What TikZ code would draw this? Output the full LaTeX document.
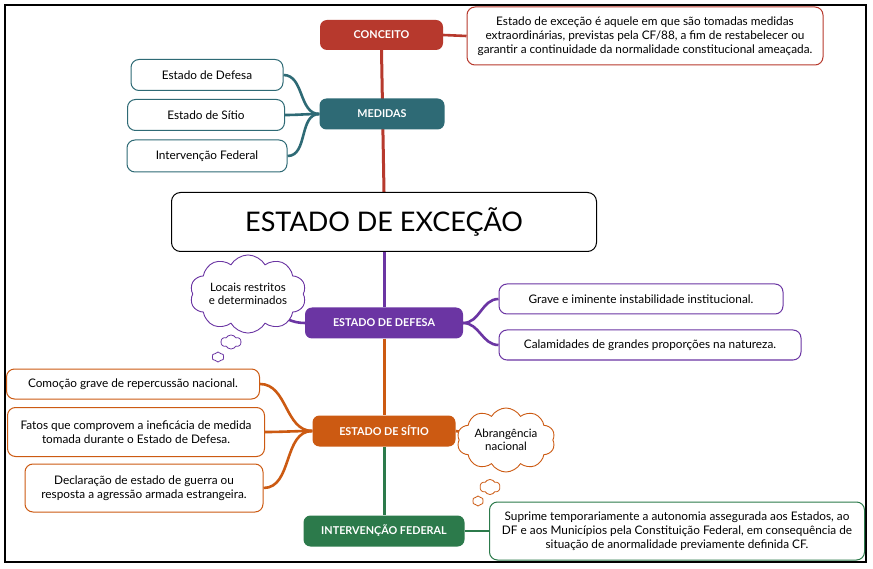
\documentclass[tikz,border=0pt]{standalone}
\usepackage{fontspec}
\setmainfont{Lato}
\usetikzlibrary{shapes.symbols,backgrounds}
\definecolor{cred}{HTML}{B7392D}
\definecolor{cteal}{HTML}{2E6A75}
\definecolor{cpurple}{HTML}{6B35A3}
\definecolor{corange}{HTML}{CC5A12}
\definecolor{cgreen}{HTML}{2C7A4B}
\tikzset{
  topic/.style={rounded corners=7pt, fill=#1, text=white, font=\fontsize{10.8}{12}\selectfont\bfseries, inner sep=0pt, minimum height=31pt},
  leaf/.style={rounded corners=8pt, draw=#1, line width=1pt, fill=white, align=center, font=\fontsize{11.8}{14}\selectfont, inner sep=0pt, minimum height=30pt},
  branch/.style={draw=#1, line width=2.6pt},
  trunk/.style={draw=#1, line width=3pt},
  thought/.style={cloud, cloud puffs=10, cloud puff arc=120, aspect=1.8, draw=#1, line width=0.9pt, fill=white, align=center, font=\fontsize{11.5}{13.5}\selectfont, inner sep=0pt},
  bubble/.style={cloud, cloud puffs=6, cloud puff arc=120, draw=#1, line width=0.8pt, fill=white, inner sep=0pt},
}
\begin{document}
\begin{tikzpicture}[x=1pt,y=-1pt]
\useasboundingbox (0,0) rectangle (873,569);

% central and main topics
\node[rounded corners=9pt, draw=black, line width=1pt, fill=white, minimum width=425pt, minimum height=59pt, inner sep=0pt, font=\fontsize{27}{30}\selectfont] (central) at (384,222) {ESTADO DE EXCEÇÃO};
\node[topic=cred, minimum width=123pt, minimum height=30pt] (conceito) at (381.5,35) {CONCEITO};
\node[topic=cteal, minimum width=125pt] (medidas) at (382,114) {MEDIDAS};
\node[topic=cpurple, minimum width=158pt] (defesa) at (384,323) {ESTADO DE DEFESA};
\node[topic=corange, minimum width=143pt] (sitio) at (384,431) {ESTADO DE SÍTIO};
\node[topic=cgreen, minimum width=161pt] (interv) at (384,531) {INTERVENÇÃO FEDERAL};

% concept
\node[leaf=cred, minimum width=356pt, minimum height=58pt] (concdef) at (645,36) {Estado de exceção é aquele em que são tomadas medidas\\extraordinárias, previstas pela CF/88, a fim de restabelecer ou\\garantir a continuidade da normalidade constitucional ameaçada.};

% medidas
\node[leaf=cteal, minimum width=152pt, minimum height=31pt] (m1) at (207,75) {Estado de Defesa};
\node[leaf=cteal, minimum width=157pt, minimum height=31pt] (m2) at (206,115) {Estado de Sítio};
\node[leaf=cteal, minimum width=160pt, minimum height=32pt] (m3) at (207,156) {Intervenção Federal};

% defesa
\node[leaf=cpurple, minimum width=284pt] (d1) at (641,299) {Grave e iminente instabilidade institucional.};
\node[leaf=cpurple, minimum width=302pt] (d2) at (650,345) {Calamidades de grandes proporções na natureza.};
\node[thought=cpurple, minimum width=110pt, minimum height=62pt] (cloudA) at (248,294) {Locais restritos\\e determinados};
\node[bubble=cpurple, minimum width=20pt, minimum height=14pt] (bA1) at (231,342) {};
\node[bubble=cpurple, minimum width=12pt, minimum height=10pt] (bA2) at (218,357) {};

% sitio
\node[leaf=corange, minimum width=253pt] (s1) at (133,384) {Comoção grave de repercussão nacional.};
\node[leaf=corange, minimum width=257pt, minimum height=49pt] (s2) at (136,432) {Fatos que comprovem a ineficácia de medida\\tomada durante o Estado de Defesa.};
\node[leaf=corange, minimum width=238pt, minimum height=48pt] (s3) at (144,488) {Declaração de estado de guerra ou\\resposta a agressão armada estrangeira.};
\node[thought=corange, minimum width=98pt, minimum height=64pt] (cloudB) at (506,440) {Abrangência\\nacional};
\node[bubble=corange, minimum width=20pt, minimum height=15pt] (bB1) at (490,487) {};
\node[bubble=corange, minimum width=11pt, minimum height=10pt] (bB2) at (478,501) {};

% intervencao
\node[leaf=cgreen, minimum width=375pt, minimum height=58pt] (i1) at (677,531) {Suprime temporariamente a autonomia assegurada aos Estados, ao\\DF e aos Municípios pela Constituição Federal, em consequência de\\situação de anormalidade previamente definida CF.};

\begin{pgfonlayer}{background}
\fill[white] (0,0) rectangle (873,569);
\draw[black, line width=1.3pt] (5,5) rectangle (866,562);
\draw[trunk=cred] (conceito.south) -- (central.north);
\draw[trunk=cpurple] (central.south) -- (defesa.north);
\draw[trunk=corange] (defesa.south) -- (sitio.north);
\draw[trunk=cgreen] (sitio.south) -- (interv.north);
\draw[branch=cred] (conceito.east) -- (concdef.west);
\draw[branch=cteal] (medidas.west) to[out=180,in=0] (m1.east);
\draw[branch=cteal] (medidas.west) to[out=180,in=0] (m2.east);
\draw[branch=cteal] (medidas.west) to[out=180,in=0] (m3.east);
\draw[branch=cpurple] (defesa.east) to[out=0,in=180] (d1.west);
\draw[branch=cpurple] (defesa.east) to[out=0,in=180] (d2.west);
\draw[branch=cpurple] (defesa.west) to[out=180,in=-20] (cloudA.center);
\draw[branch=corange] (sitio.west) to[out=180,in=0] (s1.east);
\draw[branch=corange] (sitio.west) to[out=180,in=0] (s2.east);
\draw[branch=corange] (sitio.west) to[out=180,in=0] (s3.east);
\draw[branch=corange] (sitio.east) -- (cloudB.center);
\draw[branch=cgreen] (interv.east) -- (i1.west);
\end{pgfonlayer}
\end{tikzpicture}
\end{document}
